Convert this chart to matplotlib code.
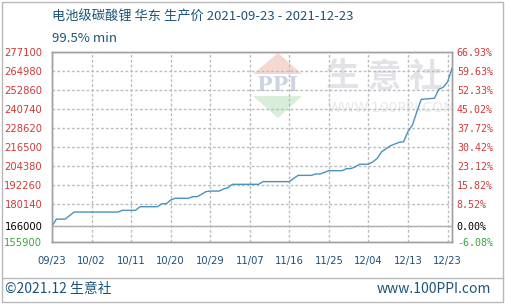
import pandas as pd
import matplotlib.pyplot as plt
from matplotlib.patches import Polygon, Rectangle
from matplotlib.lines import Line2D

# 价格走势
dates = [
    "2021-09-23", "2021-09-24", "2021-09-26", "2021-09-28", "2021-10-08",
    "2021-10-09", "2021-10-12", "2021-10-13", "2021-10-17", "2021-10-18",
    "2021-10-19", "2021-10-20", "2021-10-21", "2021-10-24", "2021-10-25",
    "2021-10-26", "2021-10-27", "2021-10-28", "2021-10-29", "2021-10-31",
    "2021-11-01", "2021-11-02", "2021-11-03", "2021-11-09", "2021-11-10",
    "2021-11-16", "2021-11-17", "2021-11-18", "2021-11-21", "2021-11-22",
    "2021-11-23", "2021-11-25", "2021-11-28", "2021-11-29", "2021-11-30",
    "2021-12-01", "2021-12-02", "2021-12-04", "2021-12-05", "2021-12-06",
    "2021-12-07", "2021-12-09", "2021-12-11", "2021-12-12", "2021-12-13",
    "2021-12-14", "2021-12-15", "2021-12-16", "2021-12-19", "2021-12-20",
    "2021-12-21", "2021-12-22", "2021-12-23",
]
prices = [
    166000, 170500, 170500, 175000, 175000,
    176100, 176100, 178400, 178400, 180300,
    180300, 182700, 183800, 183800, 184800,
    184800, 186300, 188000, 188400, 188400,
    189700, 190500, 192700, 192700, 194400,
    194400, 196500, 198400, 198400, 199300,
    199300, 201400, 201400, 202700, 202700,
    203900, 205500, 205500, 207000, 209300,
    213500, 217300, 219500, 219900, 226500,
    230500, 239000, 246900, 247600, 253300,
    254600, 258000, 266700,
]

y_ticks = [155900, 166000, 180140, 192260, 204380, 216500,
           228620, 240740, 252860, 264980, 277100]
y_labels = [str(v) for v in y_ticks]
pct_labels = ["-6.08%", "0.00%", "8.52%", "15.82%", "23.12%", "30.42%",
              "37.72%", "45.02%", "52.33%", "59.63%", "66.93%"]

x_tick_dates = ["2021-09-23", "2021-10-02", "2021-10-11", "2021-10-20",
                "2021-10-29", "2021-11-07", "2021-11-16", "2021-11-25",
                "2021-12-04", "2021-12-13", "2021-12-22"]
x_labels = ["09/23", "10/02", "10/11", "10/20", "10/29", "11/07",
            "11/16", "11/25", "12/04", "12/13", "12/23"]

title = "电池级碳酸锂 华东 生产价 2021-09-23 - 2021-12-23"
subtitle = "99.5% min"

W, H = 506, 305
plt.rcParams['font.family'] = ['Noto Sans CJK SC', 'DejaVu Sans']

fig = plt.figure(figsize=(W / 100, H / 100), dpi=100)


def fx(x):
    return x / W


def fy(y):
    return 1 - y / H


ax = fig.add_axes([fx(52), fy(242), fx(452) - fx(52), fy(52) - fy(242)])
ax.patch.set_alpha(0)

# 外框和分隔线
fig.patches.append(Rectangle((fx(2), fy(302)), fx(503) - fx(2), fy(2) - fy(302),
                             transform=fig.transFigure, fill=False,
                             edgecolor="#b8b8b8", linewidth=1, zorder=-5))
fig.lines.append(Line2D([fx(2), fx(503)], [fy(278), fy(278)],
                        transform=fig.transFigure, color="#b8b8b8",
                        linewidth=1, zorder=-5))

# 水印
fig.patches.append(Polygon([(fx(253), fy(74)), (fx(278), fy(53)), (fx(302), fy(74))],
                           transform=fig.transFigure, closed=True,
                           facecolor="#f6d8d2", edgecolor="none", zorder=-3))
fig.patches.append(Polygon([(fx(253), fy(96)), (fx(278), fy(118)), (fx(302), fy(96))],
                           transform=fig.transFigure, closed=True,
                           facecolor="#d8eed8", edgecolor="none", zorder=-3))
fig.text(fx(278), fy(85), "PPI", ha="center", va="center", fontsize=15,
         fontweight="bold", family="DejaVu Serif", color="#ccd3e4", zorder=-2)
for cx, ch in zip([343, 384, 425], "生意社"):
    fig.text(fx(cx), fy(77), ch, ha="center", va="center", fontsize=24,
             fontweight="bold", color="#e2e2e8", zorder=-2)
wm = fig.text(fx(328), fy(108), "WWW.100PPI.COM", ha="left", va="center",
              fontsize=10, family="DejaVu Sans", color="#e8e8ee", zorder=-2)
wm.set_clip_box(ax.bbox)
wm.set_clip_on(True)

x = pd.to_datetime(dates)
ax.plot(x, prices, color="#4a93bb", linewidth=1.0, zorder=3)

ax.set_xlim(pd.Timestamp("2021-09-23"), pd.Timestamp("2021-12-23"))
ax.set_ylim(y_ticks[0], y_ticks[-1])

ax.set_xticks(pd.to_datetime(x_tick_dates))
ax.set_xticklabels(x_labels, fontsize=7.2, family="DejaVu Sans", color="#1d4f78")
ax.tick_params(axis="x", length=0, pad=10)

ax.set_yticks(y_ticks)
ax.set_yticklabels(y_labels, fontsize=7.2, family="DejaVu Sans")
ax.tick_params(axis="y", length=0, pad=7)

# 网格
ax.set_axisbelow(False)
ax.grid(True, color="#bdbdbd", linestyle=(0, (2, 1.5)), linewidth=1.0, snap=True)
ax.axhline(y_ticks[1], color="#a4a4a4", linewidth=1.0, zorder=2.5, snap=True)

ax2 = ax.twinx()
ax2.set_ylim(ax.get_ylim())
ax2.set_yticks(y_ticks)
ax2.set_yticklabels(pct_labels, fontsize=7.2, family="DejaVu Sans Mono")
ax2.tick_params(axis="y", length=0, pad=3.5)

for labels in (ax.get_yticklabels(), ax2.get_yticklabels()):
    for i, lab in enumerate(labels):
        if i == 0:
            lab.set_color("#3aa63a")
        elif i == 1:
            lab.set_color("black")
        else:
            lab.set_color("#d03a3a")

for a in (ax, ax2):
    for s in a.spines.values():
        s.set_color("#a0a0a0")
        s.set_linewidth(1)

fig.text(fx(52), fy(17), title, ha="left", va="center", fontsize=9.5,
         color="#1d5578")
fig.text(fx(52), fy(38), subtitle, ha="left", va="center", fontsize=9.5,
         color="#1d5578")
fig.text(fx(5), fy(289), "©2021.12 生意社", ha="left", va="center",
         fontsize=10, color="#1d5578")
fig.text(fx(491), fy(289), "www.100PPI.com", ha="right", va="center",
         fontsize=10, color="#1d5578")

fig.savefig("out.png", dpi=100)
